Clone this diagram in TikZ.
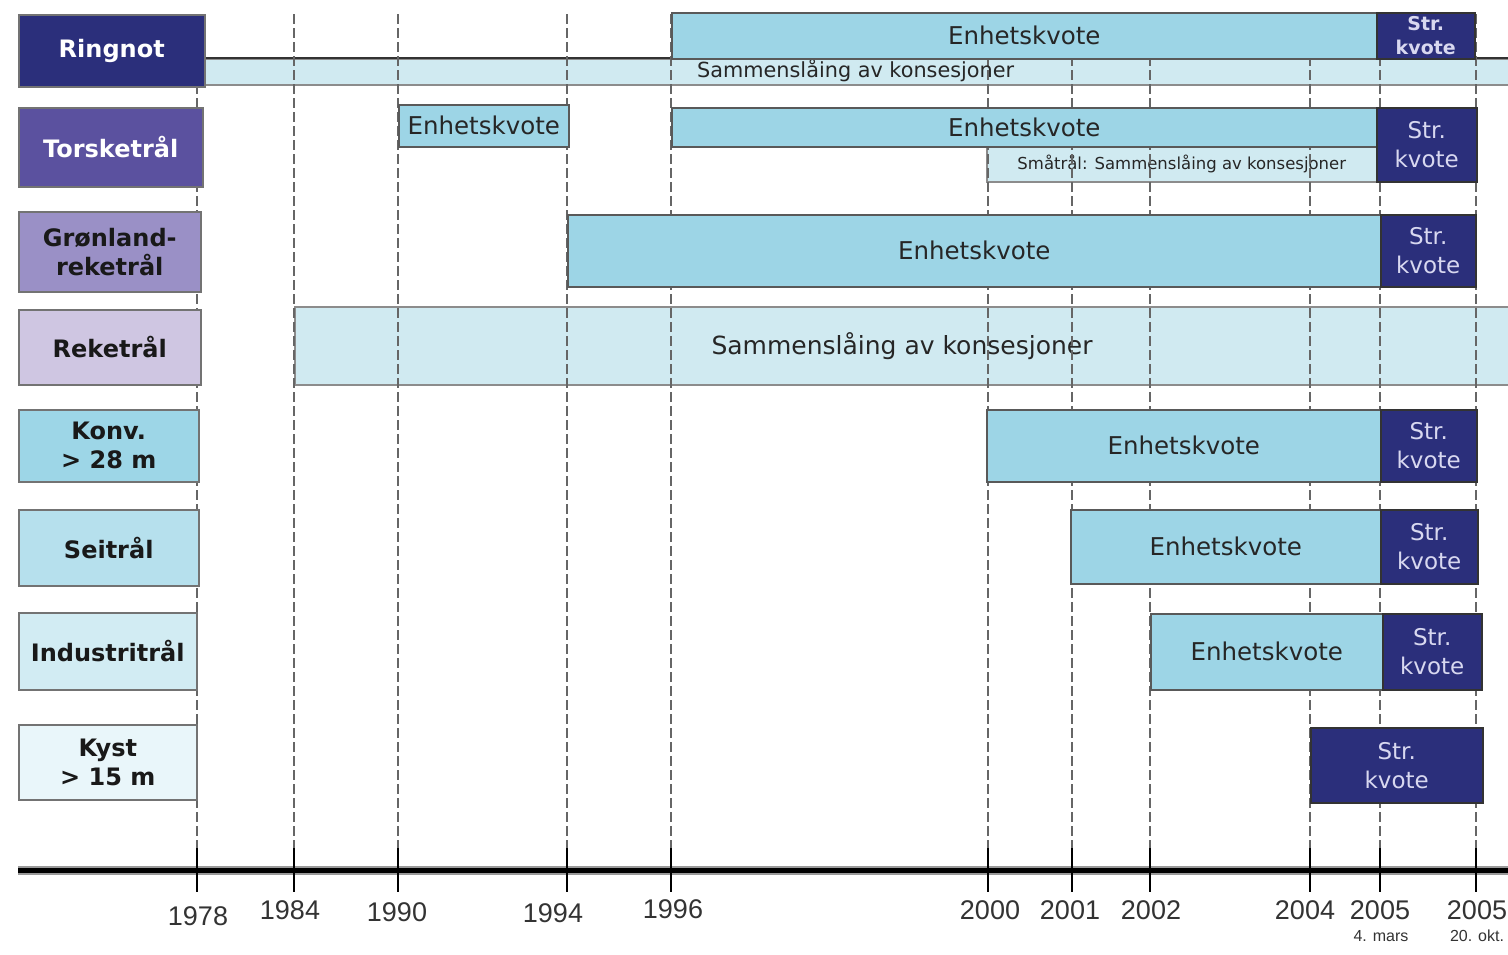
\documentclass[tikz,border=0pt]{standalone}
\usepackage{fontspec}
\setmainfont{DejaVu Sans}
\newfontfamily\yearfont{Liberation Sans}
\definecolor{navy}{HTML}{2B2F7B}
\definecolor{torsk}{HTML}{5B519F}
\definecolor{gronl}{HTML}{9A90C6}
\definecolor{reke}{HTML}{CFC6E2}
\definecolor{konv}{HTML}{9DD6E7}
\definecolor{sei}{HTML}{B6E0ED}
\definecolor{indu}{HTML}{D2ECF3}
\definecolor{kyst}{HTML}{E9F6FA}
\definecolor{enh}{HTML}{9DD5E6}
\definecolor{sammc}{HTML}{D0EAF1}
\definecolor{strtext}{HTML}{D8D8F0}
\tikzset{
  lab/.style={draw=black!55, line width=1.5pt, anchor=north west, inner sep=0pt, align=center,
    font=\fontsize{24}{29}\selectfont\bfseries, text=black!90},
  enhbar/.style={draw=black!65, line width=1.5pt, anchor=north west, inner sep=0pt, fill=enh,
    font=\fontsize{24.5}{29}\selectfont, text=black!85},
  strbox/.style={enhbar, draw=black!80, fill=navy, text=strtext, align=center, font=\fontsize{23}{29}\selectfont},
  sammbar/.style={draw=black!45, line width=1.5pt, fill=sammc, anchor=north west, inner sep=0pt, text=black!85},
  gridline/.style={draw=black!60, line width=2pt, dash pattern=on 10pt off 4pt},
  tickline/.style={line width=2.5pt, draw=black},
  yearlab/.style={font=\yearfont\fontsize{27}{27}\selectfont, text=black!80, inner sep=0pt},
  smalllab/.style={font=\yearfont\fontsize{16}{16}\selectfont, text=black!80, inner sep=0pt},
}
\begin{document}
\begin{tikzpicture}[x=1pt,y=-1pt]
\useasboundingbox (0,0) rectangle (1508,954);
\fill[white] (0,0) rectangle (1508,954);

% light bars (behind grid lines)
\node[sammbar, minimum width=1310pt, minimum height=26pt] (ringsamm) at (204,58) {};
\draw[black!80, line width=2pt] (ringsamm.north west) -- (ringsamm.north east);
\node[sammbar, minimum width=390pt, minimum height=35pt, font=\fontsize{16.5}{20}\selectfont] (smatral) at (986,146) {Småtrål: Sammenslåing av konsesjoner};
\node[sammbar, minimum width=1220pt, minimum height=78pt, font=\fontsize{25}{29}\selectfont] (rekesamm) at (294,306) {};
\node[font=\fontsize{25}{29}\selectfont, text=black!85, inner sep=0pt] (rekesammtxt) at (902,346) {Sammenslåing av konsesjoner};

% grid lines
\foreach \n/\x in {y1978/197, y1984/294, y1990/398, y1994/567, y1996/671, y2000/988, y2001/1072, y2002/1150, y2004/1310, y2005a/1380, y2005b/1476}{
  \coordinate (\n top) at (\x,14);
  \coordinate (\n bot) at (\x,848);
  \coordinate (\n tick) at (\x,892);
  \draw[gridline] (\n top) -- (\n bot);
}
\node[anchor=west, font=\fontsize{20.8}{24}\selectfont, text=black!85, inner sep=0pt] (ringsammtxt) at (697,71) {Sammenslåing av konsesjoner};

% left labels
\node[lab, fill=navy, text=white, minimum width=186pt, minimum height=72pt] (ringnot) at (18,14) {Ringnot};
\node[lab, fill=torsk, text=white, minimum width=184pt, minimum height=79pt] (torsk) at (18,107) {Torsketrål};
\node[lab, fill=gronl, minimum width=182pt, minimum height=80pt] (gronl) at (18,211) {Grønland-\\reketrål};
\node[lab, fill=reke, minimum width=182pt, minimum height=75pt] (reke) at (18,309) {Reketrål};
\node[lab, fill=konv, minimum width=180pt, minimum height=72pt] (konv) at (18,409) {Konv.\\\textgreater{} 28 m};
\node[lab, fill=sei, minimum width=180pt, minimum height=76pt] (sei) at (18,509) {Seitrål};
\node[lab, fill=indu, minimum width=178pt, minimum height=77pt] (indu) at (18,612) {Industritrål};
\node[lab, fill=kyst, minimum width=178pt, minimum height=75pt] (kyst) at (18,724) {Kyst\\\textgreater{} 15 m};

% unit quota bars
\node[enhbar, minimum width=705pt, minimum height=46pt] (ringenh) at (671,12) {Enhetskvote};
\node[enhbar, minimum width=170pt, minimum height=42pt] (torenh1) at (398,104) {Enhetskvote};
\node[enhbar, minimum width=705pt, minimum height=39pt] (torenh2) at (671,107) {Enhetskvote};
\node[enhbar, minimum width=813pt, minimum height=72pt] (gronenh) at (567,214) {Enhetskvote};
\node[enhbar, minimum width=394pt, minimum height=72pt] (konvenh) at (986,409) {Enhetskvote};
\node[enhbar, minimum width=310pt, minimum height=74pt] (seienh) at (1070,509) {Enhetskvote};
\node[enhbar, minimum width=232pt, minimum height=76pt] (induenh) at (1150,613) {Enhetskvote};

% structural quota boxes
\node[strbox, minimum width=98pt, minimum height=46pt, font=\fontsize{19}{24}\selectfont\bfseries] (ringstr) at (1376,12) {Str.\\kvote};
\node[strbox, minimum width=100pt, minimum height=74pt] (torstr) at (1376,107) {Str.\\kvote};
\node[strbox, minimum width=95pt, minimum height=72pt] (gronstr) at (1380,214) {Str.\\kvote};
\node[strbox, minimum width=96pt, minimum height=72pt] (konvstr) at (1380,409) {Str.\\kvote};
\node[strbox, minimum width=97pt, minimum height=74pt] (seistr) at (1380,509) {Str.\\kvote};
\node[strbox, minimum width=99pt, minimum height=76pt] (industr) at (1382,613) {Str.\\kvote};
\node[strbox, minimum width=172pt, minimum height=75pt] (kyststr) at (1310,727) {Str.\\kvote};

% axis
\coordinate (axstart) at (18,870);
\coordinate (axend) at (1508,870);
\draw[black!40, line width=9pt] (axstart) -- (axend);
\draw[black, line width=5pt] (axstart) -- (axend);
\foreach \n in {y1978, y1984, y1990, y1994, y1996, y2000, y2001, y2002, y2004, y2005a, y2005b}{
  \draw[tickline] (\n bot) -- (\n tick);
}

% year labels
\node[yearlab] (l1978) at (198,916) {1978};
\node[yearlab] (l1984) at (290,910) {1984};
\node[yearlab] (l1990) at (397,912) {1990};
\node[yearlab] (l1994) at (553,913) {1994};
\node[yearlab] (l1996) at (673,909) {1996};
\node[yearlab] (l2000) at (990,910) {2000};
\node[yearlab] (l2001) at (1070,910) {2001};
\node[yearlab] (l2002) at (1151,910) {2002};
\node[yearlab] (l2004) at (1305,910) {2004};
\node[yearlab] (l2005a) at (1380,910) {2005};
\node[yearlab] (l2005b) at (1477,910) {2005};
\node[smalllab] (mars) at (1381,936) {4. mars};
\node[smalllab] (okt) at (1477,936) {20. okt.};
\end{tikzpicture}
\end{document}
